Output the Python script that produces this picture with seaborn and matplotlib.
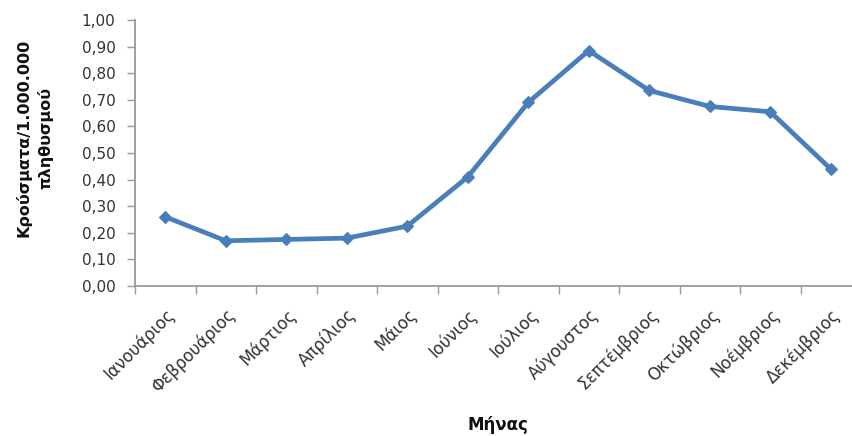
import numpy as np
import pandas as pd
import matplotlib
matplotlib.use("Agg")
import matplotlib.pyplot as plt
import seaborn as sns

months = ["Ιανουάριος", "Φεβρουάριος", "Μάρτιος", "Απρίλιος", "Μάιος", "Ιούνιος",
          "Ιούλιος", "Αύγουστος", "Σεπτέμβριος", "Οκτώβριος", "Νοέμβριος", "Δεκέμβριος"]
cases_per_million = [0.26, 0.17, 0.175, 0.18, 0.225, 0.41,
                     0.69, 0.885, 0.735, 0.675, 0.655, 0.44]
y_ticks = [0.0, 0.1, 0.2, 0.3, 0.4, 0.5, 0.6, 0.7, 0.8, 0.9, 1.0]

sns.set_theme(style="white")
plt.rcParams["font.family"] = ["DejaVu Sans"]

df = pd.DataFrame({"pos": np.arange(len(months)), "value": cases_per_million})

W, H = 852, 436
fig = plt.figure(figsize=(W / 100, H / 100), dpi=100)
# the category axis runs past the right edge of the canvas
step = 60.5
left, top, bottom = 135, 20, 286
right = W
ax = fig.add_axes([left / W, 1 - bottom / H, (right - left) / W, (bottom - top) / H])

line_color = "#4A7EBB"
sns.lineplot(data=df, x="pos", y="value", ax=ax, color=line_color, linewidth=3.4,
             marker="D", markersize=6.5, markeredgecolor=line_color, markeredgewidth=0.8,
             clip_on=False)

ax.set_xlim(-0.5, -0.5 + (right - left) / step)
ax.set_ylim(0, 1.0)

# ticks between categories, labels at the centres
ax.set_xticks(np.arange(-0.5, len(months) - 0.5, 1.0))
ax.set_xticklabels([])
ax.set_xticks(np.arange(len(months)), minor=True)
ax.set_xticklabels(months, minor=True, rotation=45, ha="right", rotation_mode="anchor",
                   fontsize=12, color="#333333")
ax.tick_params(axis="x", which="major", direction="out", length=6, width=1, color="#999999", bottom=True)
ax.tick_params(axis="x", which="minor", length=0, pad=14, bottom=True)

ax.set_yticks(y_ticks)
ax.set_yticklabels([f"{v:.2f}".replace(".", ",") for v in y_ticks], fontsize=11, color="#333333")
ax.tick_params(axis="y", direction="out", length=6, width=1, color="#999999", left=True, right=False, pad=8)

sns.despine(ax=ax, top=True, right=True)
for s in ["left", "bottom"]:
    ax.spines[s].set_color("#999999")
    ax.spines[s].set_linewidth(1.3)
ax.grid(False)
ax.set_xlabel("")
ax.set_ylabel("")

fig.text(498 / W, 1 - 425 / H, "Μήνας", ha="center", va="center",
         fontsize=12, fontweight="bold", color="#111111")
fig.text(34 / W, 1 - 138 / H, "Κρούσματα/1.000.000\nπληθυσμού", ha="center", va="center",
         rotation=90, fontsize=11.5, fontweight="bold", color="#111111", linespacing=1.45,
         multialignment="center")

fig.savefig("out.png", dpi=100)
